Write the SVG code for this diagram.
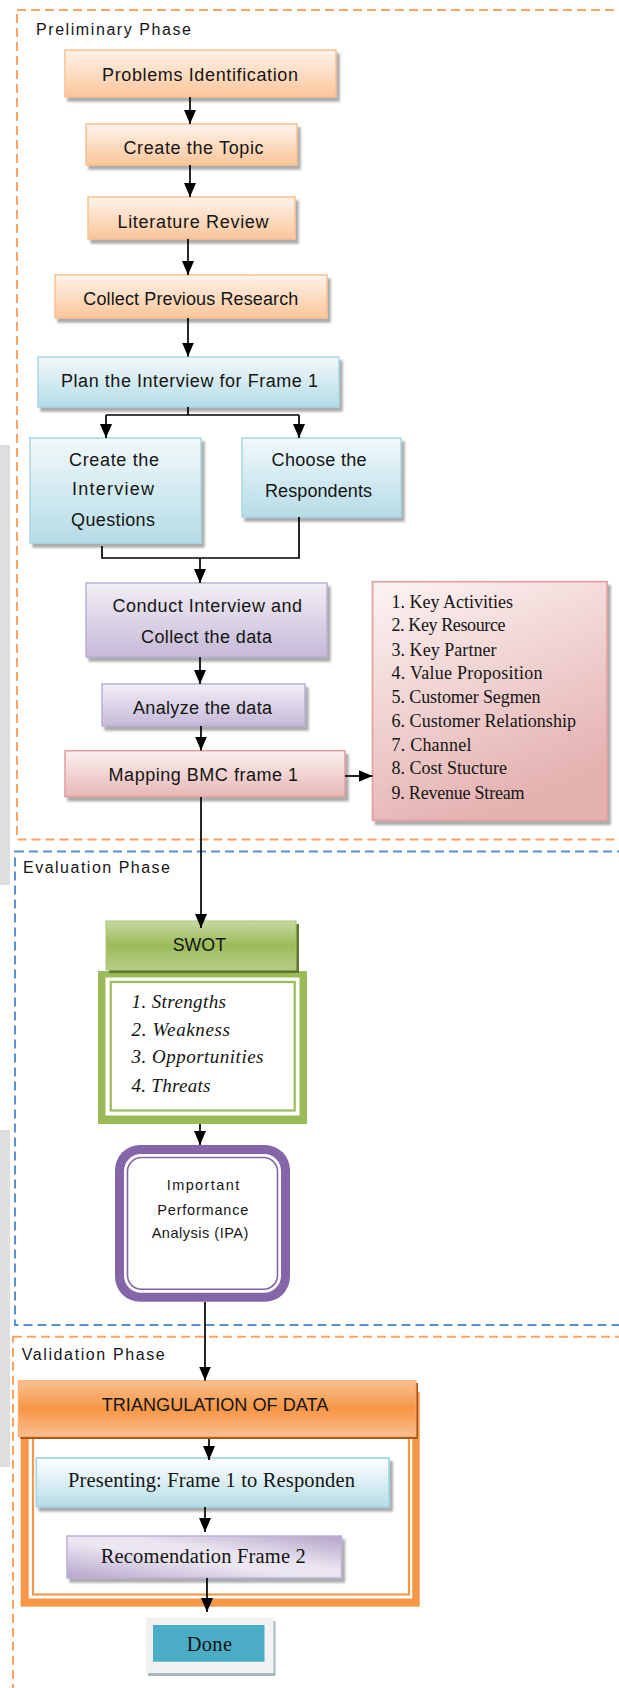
<svg xmlns="http://www.w3.org/2000/svg" width="619" height="1688" viewBox="0 0 619 1688">
<style>
.ph{fill:none;stroke-width:2;stroke-dasharray:9 5}
.t{font-family:"Liberation Sans",Arial,sans-serif;fill:#151515;font-size:18px}
.s{font-family:"Liberation Serif","Times New Roman",serif;fill:#151515;font-size:18px}
.c{stroke:#000;stroke-width:1.7;fill:none}
.a{marker-end:url(#ah)}
.sh{filter:url(#ds)}
</style>
<defs>
<marker id="ah" viewBox="0 0 14 12" refX="14" refY="6" markerWidth="14" markerHeight="12" markerUnits="userSpaceOnUse" orient="auto"><path d="M0,0 L14,6 L0,12 z" fill="#000"/></marker>
<filter id="ds" x="-10%" y="-10%" width="130%" height="140%"><feDropShadow dx="3" dy="4" stdDeviation="1" flood-color="#666" flood-opacity="0.55"/></filter>
<linearGradient id="gOr" x1="0" y1="0" x2="0" y2="1"><stop offset="0" stop-color="#FFF3EA"/><stop offset="1" stop-color="#FAC69A"/></linearGradient>
<linearGradient id="gBl" x1="0" y1="0" x2="0" y2="1"><stop offset="0" stop-color="#F2F9FB"/><stop offset="1" stop-color="#B5DCE7"/></linearGradient>
<linearGradient id="gPu" x1="0" y1="0" x2="0" y2="1"><stop offset="0" stop-color="#F2EFF6"/><stop offset="1" stop-color="#C6B9D8"/></linearGradient>
<linearGradient id="gRd" x1="0" y1="0" x2="0" y2="1"><stop offset="0" stop-color="#FCEFEF"/><stop offset="1" stop-color="#E6B8B7"/></linearGradient>
<linearGradient id="gKey" x1="0" y1="0" x2="0.4" y2="1"><stop offset="0" stop-color="#FDF4F4"/><stop offset="1" stop-color="#E4B2B1"/></linearGradient>
<linearGradient id="gGr" x1="0" y1="0" x2="0" y2="1"><stop offset="0" stop-color="#C6D9A0"/><stop offset="0.5" stop-color="#9BBB59"/><stop offset="1" stop-color="#B8CE88"/></linearGradient>
<linearGradient id="gTr" x1="0" y1="0" x2="0" y2="1"><stop offset="0" stop-color="#FAC090"/><stop offset="0.5" stop-color="#F79646"/><stop offset="1" stop-color="#FABF8F"/></linearGradient>
<linearGradient id="gPr" x1="0" y1="0" x2="0" y2="1"><stop offset="0" stop-color="#FFFFFF"/><stop offset="1" stop-color="#B6DDE8"/></linearGradient>
<linearGradient id="gRe" x1="0" y1="1" x2="1" y2="0"><stop offset="0" stop-color="#B6A5CC"/><stop offset="0.45" stop-color="#ECE8F2"/><stop offset="0.6" stop-color="#E9E4F0"/><stop offset="1" stop-color="#B3A2C8"/></linearGradient>
</defs>

<g id="page-artifacts">
<rect x="0" y="445" width="10" height="440" fill="#DEDEDE"/>
<rect x="0" y="1130" width="10" height="337" fill="#DEDEDE"/>
</g>

<g id="phases">
<rect class="ph" x="17" y="10" width="640" height="829.5" stroke="#F9A465"/>
<text class="t" x="36" y="35" style="font-size:16px" textLength="155">Preliminary Phase</text>
<rect class="ph" x="15" y="851.5" width="640" height="473.5" stroke="#5B90D1"/>
<text class="t" x="23" y="873" style="font-size:16px" textLength="147">Evaluation Phase</text>
<rect class="ph" x="13" y="1336.7" width="640" height="420" stroke="#F9A465"/>
<text class="t" x="21.7" y="1360" style="font-size:16px" textLength="143">Validation Phase</text>
</g>

<g id="n1"><rect class="sh" x="65" y="50" width="271" height="47" fill="url(#gOr)" stroke="#F8C193" stroke-width="1.5"/>
<text class="t" x="102" y="80.5" textLength="196">Problems Identification</text></g>
<g id="n2"><rect class="sh" x="86" y="124" width="211" height="41" fill="url(#gOr)" stroke="#F8C193" stroke-width="1.5"/>
<text class="t" x="123.5" y="154" textLength="140">Create the Topic</text></g>
<g id="n3"><rect class="sh" x="88" y="197" width="207" height="42" fill="url(#gOr)" stroke="#F8C193" stroke-width="1.5"/>
<text class="t" x="117.5" y="227.5" textLength="151">Literature Review</text></g>
<g id="n4"><rect class="sh" x="55" y="275" width="272" height="43" fill="url(#gOr)" stroke="#F8C193" stroke-width="1.5"/>
<text class="t" x="83.3" y="305" textLength="215">Collect Previous Research</text></g>
<g id="n5"><rect class="sh" x="38" y="357" width="301" height="50" fill="url(#gBl)" stroke="#A8D6E3" stroke-width="1.5"/>
<text class="t" x="61" y="387.3" textLength="257">Plan the Interview for Frame 1</text></g>
<g id="n6"><rect class="sh" x="30" y="438" width="171" height="105" fill="url(#gBl)" stroke="#A8D6E3" stroke-width="1.5"/>
<text class="t" x="69" y="466" textLength="90">Create the</text>
<text class="t" x="72" y="495" textLength="82">Interview</text>
<text class="t" x="71" y="526" textLength="84">Questions</text></g>
<g id="n7"><rect class="sh" x="242" y="438" width="159" height="79" fill="url(#gBl)" stroke="#A8D6E3" stroke-width="1.5"/>
<text class="t" x="271.6" y="466" textLength="95">Choose the</text>
<text class="t" x="265" y="497" textLength="107">Respondents</text></g>
<g id="n8"><rect class="sh" x="86" y="583" width="241" height="74" fill="url(#gPu)" stroke="#BCAED2" stroke-width="1.5"/>
<text class="t" x="112.5" y="611.7" textLength="189.5">Conduct Interview and</text>
<text class="t" x="141" y="642.7" textLength="131">Collect the data</text></g>
<g id="n9"><rect class="sh" x="102" y="684" width="203" height="42" fill="url(#gPu)" stroke="#BCAED2" stroke-width="1.5"/>
<text class="t" x="133" y="714.3" textLength="139">Analyze the data</text></g>
<g id="n10"><rect class="sh" x="65" y="750.7" width="280" height="46" fill="url(#gRd)" stroke="#DE9F9E" stroke-width="1.5"/>
<text class="t" x="108.6" y="780.7" textLength="189.5">Mapping BMC frame 1</text></g>
<g id="n11"><rect class="sh" x="372.5" y="581.7" width="234.5" height="238.5" fill="url(#gKey)" stroke="#E3A3A2" stroke-width="1.8"/>
<text class="s" x="391.5" y="607.5" textLength="121.5">1. Key Activities</text>
<text class="s" x="391.5" y="631" textLength="114">2. Key Resource</text>
<text class="s" x="391.5" y="655.5" textLength="105">3. Key Partner</text>
<text class="s" x="391.5" y="679.3" textLength="151">4. Value Proposition</text>
<text class="s" x="391.5" y="702.7" textLength="149">5. Customer Segmen</text>
<text class="s" x="391.5" y="727" textLength="184.5">6. Customer Relationship</text>
<text class="s" x="391.5" y="750.7" textLength="80">7. Channel</text>
<text class="s" x="391.5" y="774.3" textLength="115.5">8. Cost Stucture</text>
<text class="s" x="391.5" y="799" textLength="133">9. Revenue Stream</text></g>

<g id="n13">
<rect x="98" y="971" width="209" height="153" fill="#9BBB59"/>
<rect x="105.5" y="977.5" width="194" height="138" fill="#FFFFFF"/>
<rect x="110.7" y="982" width="184" height="128.5" fill="#FFFFFF" stroke="#9BBB59" stroke-width="2.2"/>
<text class="s" x="131.5" y="1008.3" style="font-style:italic;font-size:19px" textLength="94.5">1. Strengths</text>
<text class="s" x="131.5" y="1036" style="font-style:italic;font-size:19px" textLength="98.5">2. Weakness</text>
<text class="s" x="131.5" y="1062.7" style="font-style:italic;font-size:19px" textLength="132">3. Opportunities</text>
<text class="s" x="131.5" y="1091.5" style="font-style:italic;font-size:19px" textLength="79">4. Threats</text></g>
<g id="n12">
<rect x="109" y="924" width="190" height="49" fill="#5F7732"/>
<rect x="106" y="921" width="190" height="49" fill="url(#gGr)" stroke="#A9C56E" stroke-width="1"/>
<text class="t" x="172.7" y="951" textLength="53.3" lengthAdjust="spacingAndGlyphs">SWOT</text></g>

<g id="n14">
<rect x="115" y="1145" width="175" height="156.7" rx="25" fill="#8466A8"/>
<rect x="124" y="1154" width="157" height="138.7" rx="17" fill="#FFFFFF"/>
<rect x="127.5" y="1157.5" width="150" height="131.7" rx="14" fill="#FFFFFF" stroke="#8466A8" stroke-width="1.6"/>
<text class="t" x="166.7" y="1190" style="font-size:14.5px" textLength="72.6">Important</text>
<text class="t" x="157.3" y="1215" style="font-size:14.5px" textLength="91">Performance</text>
<text class="t" x="151.7" y="1238.3" style="font-size:14.5px" textLength="96.6">Analysis (IPA)</text></g>

<g id="n15">
<rect x="20.7" y="1392" width="399" height="214.7" fill="#F79646"/>
<rect x="28.7" y="1392" width="383.5" height="206.5" fill="#FFFFFF"/>
<rect x="33" y="1392" width="376" height="202.5" fill="#FFFFFF" stroke="#F79646" stroke-width="2.2"/>
<rect x="20.3" y="1383" width="397.7" height="56" fill="#A5520F"/>
<rect x="18.3" y="1380.7" width="397.7" height="56" fill="url(#gTr)" stroke="#F8A96A" stroke-width="1"/>
<text class="t" x="101.7" y="1410.7" style="font-size:18.5px" textLength="226.6" lengthAdjust="spacingAndGlyphs">TRIANGULATION OF DATA</text></g>
<g id="n16"><rect class="sh" x="36.3" y="1458" width="352.7" height="48.7" fill="url(#gPr)" stroke="#A5D8E6" stroke-width="1.8"/>
<text class="s" x="68" y="1486.7" style="font-size:20.5px" textLength="287">Presenting: Frame 1 to Responden</text></g>
<g id="n17"><rect class="sh" x="67" y="1536" width="274.5" height="42" fill="url(#gRe)" stroke="#BFB1D4" stroke-width="1.5"/>
<text class="s" x="100.7" y="1563.3" style="font-size:20.5px" textLength="205">Recomendation Frame 2</text></g>
<g id="n18">
<rect x="148" y="1621" width="127.5" height="55" fill="#A7B8BC"/>
<rect x="146" y="1618" width="127.5" height="55" fill="#F2F2F2"/>
<rect x="153" y="1625" width="111.5" height="36.7" fill="#4BACC6"/>
<text class="s" x="186.7" y="1650.7" style="font-size:20.5px" textLength="45.3">Done</text></g>

<g id="connectors">
<path class="c a" d="M190,97 V124"/>
<path class="c a" d="M190,165 V197"/>
<path class="c a" d="M188,239 V275"/>
<path class="c a" d="M188,318 V356.5"/>
<path class="c" d="M188,407 V415 M106,415 H299"/>
<path class="c a" d="M106,415 V438"/>
<path class="c a" d="M299,415 V438"/>
<path class="c" d="M102,546 V558 H299 V517"/>
<path class="c a" d="M200,558 V583"/>
<path class="c a" d="M200,657 V684"/>
<path class="c a" d="M201,726 V750.5"/>
<path class="c a" d="M345,776 H372.5"/>
<path class="c a" d="M201,797 V928"/>
<path class="c a" d="M200,1124 V1145"/>
<path class="c a" d="M205,1302 V1380.5"/>
<path class="c a" d="M209,1439 V1460"/>
<path class="c a" d="M205,1507 V1532"/>
<path class="c a" d="M207,1578 V1612"/>
</g>
</svg>
